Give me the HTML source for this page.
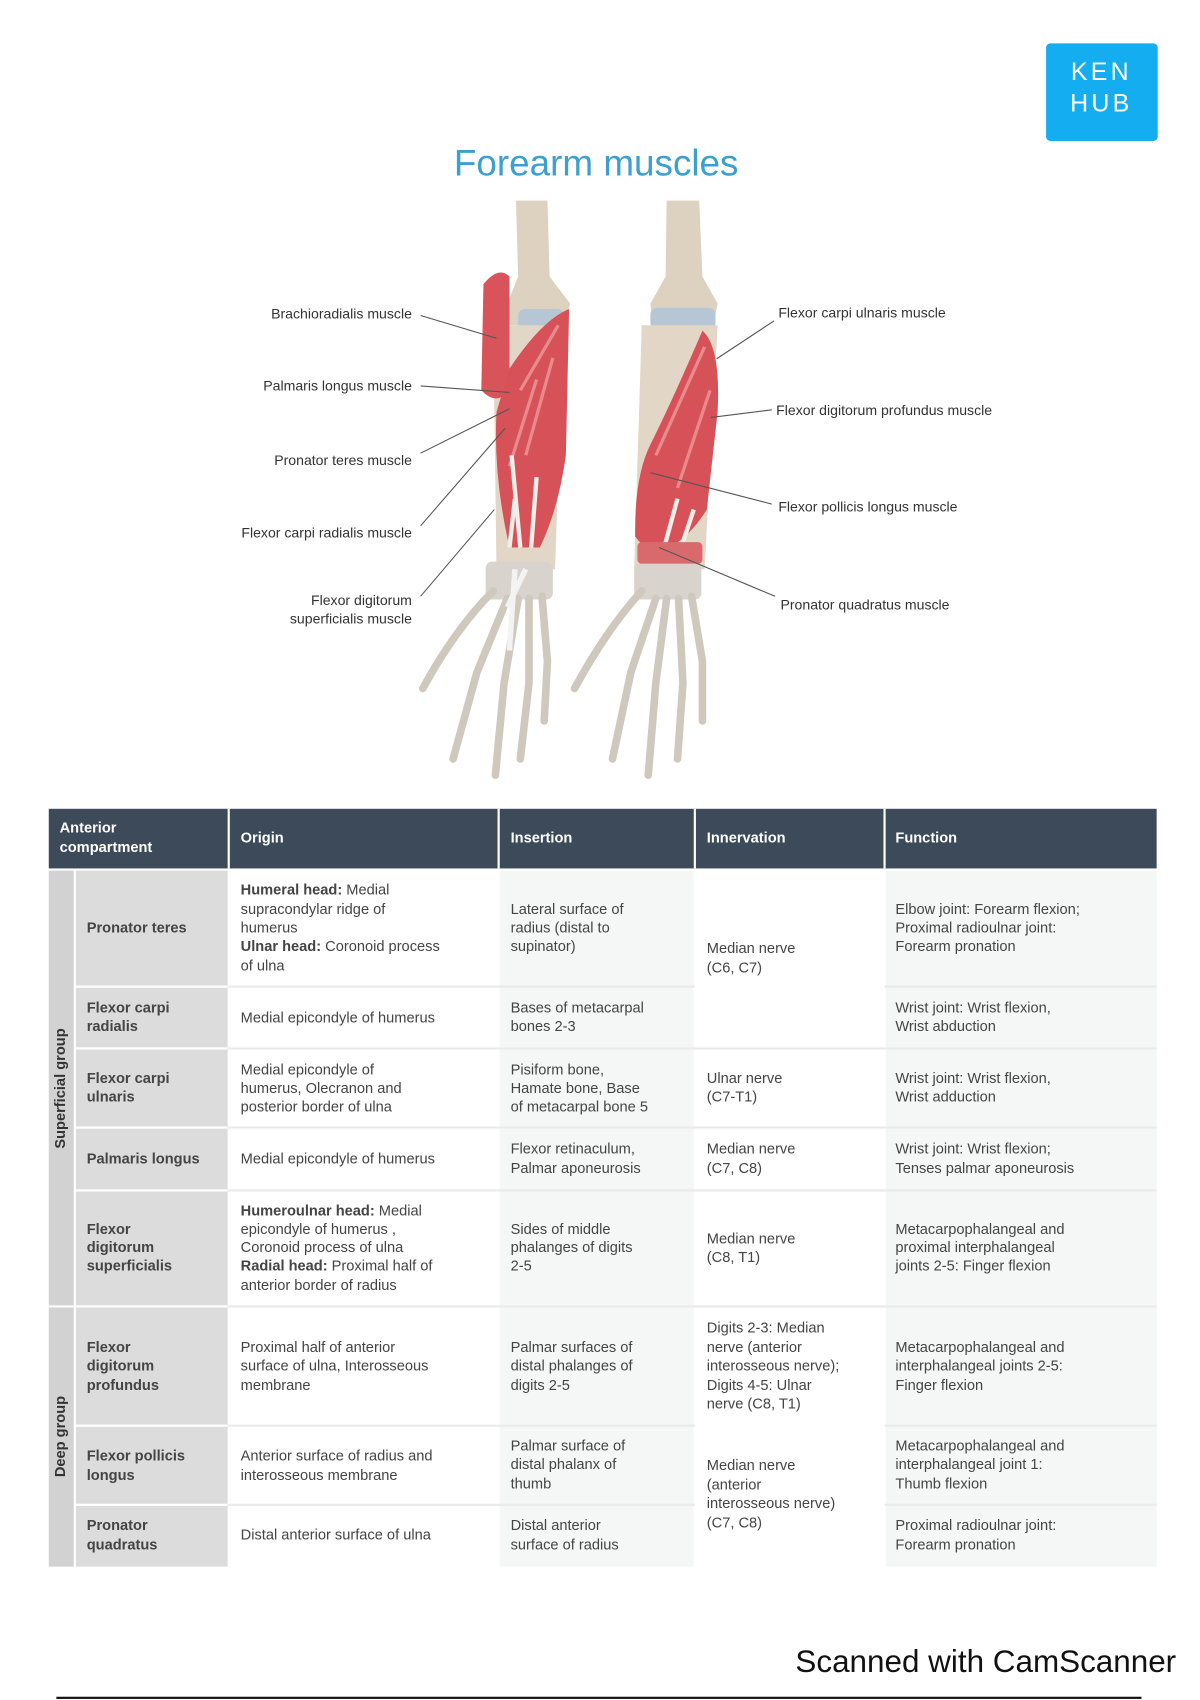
<!DOCTYPE html>
<html><head><meta charset="utf-8"><style>
html,body{margin:0;padding:0;background:#fff;}
svg{display:block;}
text{font-family:"Liberation Sans","DejaVu Sans",sans-serif;}
</style></head><body>
<svg width="1200" height="1700" viewBox="0 0 1107 1568" preserveAspectRatio="none" xmlns="http://www.w3.org/2000/svg">
<rect width="1107" height="1568" fill="#fff"/>
<!-- logo -->
<rect x="965" y="40" width="103" height="90" rx="4" fill="#14aef0"/>
<text x="1016" y="74" font-size="23" fill="#fff" text-anchor="middle" letter-spacing="3">KEN</text>
<text x="1016" y="103" font-size="23" fill="#fff" text-anchor="middle" letter-spacing="3">HUB</text>
<text x="550" y="162" font-size="34" fill="#3b9fd0" text-anchor="middle">Forearm muscles</text>

<!-- LEFT ARM -->
<g>
<path d="M476 185 L505 185 L507 255 L526 280 L520 300 L470 300 L468 280 L478 255 Z" fill="#ddd1bf"/>
<rect x="478" y="285" width="42" height="20" rx="6" fill="#b7c6d4"/>
<path d="M455 300 L520 300 L512 525 L458 525 Z" fill="#e2d7c6"/>
<path d="M446 262 Q460 245 470 255 L470 360 Q458 375 444 360 Z" fill="#d9545a"/>
<path d="M470 340 Q500 295 525 285 L522 420 Q515 470 498 505 L470 505 Q455 440 458 380 Z" fill="#d65258"/>
<path d="M480 360 L515 300 M485 420 L510 330 M470 430 L495 350" stroke="#e98a8d" stroke-width="3" fill="none"/>
<path d="M470 505 L475 460 M490 505 L495 440 M480 505 L472 420" stroke="#f1eeea" stroke-width="4" fill="none"/>
<rect x="448" y="518" width="62" height="35" rx="6" fill="#d8d4cd"/>
<g stroke="#cfc8bd" stroke-width="7" stroke-linecap="round" fill="none">
<path d="M455 545 Q420 580 390 635"/>
<path d="M468 552 L440 620 L418 700"/>
<path d="M478 552 L465 630 L457 715"/>
<path d="M488 552 L488 630 L480 700"/>
<path d="M500 550 L505 610 L502 665"/>
</g>
<path d="M475 525 L470 600 M485 525 L468 560" stroke="#f3f3f3" stroke-width="5" fill="none"/>
</g>

<!-- RIGHT ARM -->
<g>
<path d="M615 185 L645 185 L648 255 L662 280 L658 300 L602 300 L600 280 L614 255 Z" fill="#ddd1bf"/>
<rect x="600" y="284" width="60" height="20" rx="6" fill="#b7c6d4"/>
<path d="M592 300 L662 300 L650 525 L585 525 Z" fill="#e2d7c6"/>
<path d="M648 305 Q665 320 662 380 L652 470 Q630 505 600 512 L586 495 Q585 440 600 410 Q620 370 648 305 Z" fill="#d65258"/>
<path d="M605 420 L650 320 M625 450 L655 360" stroke="#e98a8d" stroke-width="3" fill="none"/>
<path d="M610 515 L625 460 M625 515 L640 470" stroke="#f1eeea" stroke-width="4" fill="none"/>
<rect x="588" y="500" width="60" height="20" rx="4" fill="#d86a6d"/>
<rect x="585" y="520" width="62" height="33" rx="6" fill="#d8d4cd"/>
<g stroke="#cfc8bd" stroke-width="7" stroke-linecap="round" fill="none">
<path d="M592 545 Q560 580 530 635"/>
<path d="M605 552 L582 620 L565 700"/>
<path d="M615 552 L605 630 L598 715"/>
<path d="M626 552 L630 630 L625 700"/>
<path d="M638 550 L648 610 L648 665"/>
</g>
</g>

<!-- leader lines -->
<g stroke="#555" stroke-width="1" fill="none">
<path d="M388 291 L458 312"/>
<path d="M388 356 L470 362"/>
<path d="M388 418 L470 377"/>
<path d="M388 485 L466 395"/>
<path d="M388 550 L456 470"/>
<path d="M714 296 L661 331"/>
<path d="M712 378 L656 385"/>
<path d="M712 465 L600 436"/>
<path d="M715 550 L608 505"/>
</g>
<g font-size="13" fill="#333">
<text x="380" y="294" text-anchor="end">Brachioradialis muscle</text>
<text x="380" y="360" text-anchor="end">Palmaris longus muscle</text>
<text x="380" y="429" text-anchor="end">Pronator teres muscle</text>
<text x="380" y="496" text-anchor="end">Flexor carpi radialis muscle</text>
<text x="380" y="558" text-anchor="end">Flexor digitorum</text>
<text x="380" y="575" text-anchor="end">superficialis muscle</text>
<text x="718" y="293">Flexor carpi ulnaris muscle</text>
<text x="716" y="383">Flexor digitorum profundus muscle</text>
<text x="718" y="472">Flexor pollicis longus muscle</text>
<text x="720" y="562">Pronator quadratus muscle</text>
</g>

<!-- TABLE -->
<rect x="45" y="746" width="1022" height="55" fill="#3c4a5a"/>
<g stroke="#fff" stroke-width="2"><path d="M211 746 V801 M460 746 V801 M641 746 V801 M816 746 V801"/></g>
<g font-size="13.5" font-weight="bold" fill="#fff">
<text x="55" y="768">Anterior</text><text x="55" y="786">compartment</text>
<text x="222" y="777">Origin</text><text x="471" y="777">Insertion</text>
<text x="652" y="777">Innervation</text><text x="826" y="777">Function</text>
</g>
<rect x="45" y="803" width="23" height="642" fill="#d2d2d2"/>
<rect x="70" y="803" width="140" height="642" fill="#dcdcdc"/>
<rect x="211" y="803" width="249" height="642" fill="#fff"/>
<rect x="461" y="803" width="179" height="642" fill="#f5f7f7"/>
<rect x="642" y="803" width="173" height="642" fill="#fff"/>
<rect x="817" y="803" width="250" height="642" fill="#f5f7f7"/>
<g stroke="#fff" stroke-width="2"><path d="M45 1205 H68"/></g>
<g stroke="#eaeaea" stroke-width="2">
<path d="M70 910 H641 M816 910 H1067 M70 967 H1067 M70 1040 H1067 M70 1098 H1067 M70 1205 H1067 M70 1315 H641 M816 1315 H1067 M70 1388 H641 M816 1388 H1067"/>
</g>
<g stroke="#fff" stroke-width="2"><path d="M70 910 H210 M70 967 H210 M70 1040 H210 M70 1098 H210 M70 1205 H210 M70 1315 H210 M70 1388 H210"/></g>
<g font-size="13.5" font-weight="bold" fill="#333">
<text transform="translate(60 1004) rotate(-90)" text-anchor="middle">Superficial group</text>
<text transform="translate(60 1325) rotate(-90)" text-anchor="middle">Deep group</text>
</g>
<g font-size="13.5" font-weight="bold" fill="#444">
<text x="80" y="860">Pronator teres</text>
<text x="80" y="934">Flexor carpi</text><text x="80" y="951">radialis</text>
<text x="80" y="999">Flexor carpi</text><text x="80" y="1016">ulnaris</text>
<text x="80" y="1073">Palmaris longus</text>
<text x="80" y="1138">Flexor</text><text x="80" y="1155">digitorum</text><text x="80" y="1172">superficialis</text>
<text x="80" y="1247">Flexor</text><text x="80" y="1264">digitorum</text><text x="80" y="1282">profundus</text>
<text x="80" y="1347">Flexor pollicis</text><text x="80" y="1365">longus</text>
<text x="80" y="1411">Pronator</text><text x="80" y="1429">quadratus</text>
</g>
<g font-size="13.5" fill="#444">
<text x="222" y="825"><tspan font-weight="bold">Humeral head:</tspan> Medial</text>
<text x="222" y="843">supracondylar ridge of</text>
<text x="222" y="860">humerus</text>
<text x="222" y="877"><tspan font-weight="bold">Ulnar head:</tspan> Coronoid process</text>
<text x="222" y="895">of ulna</text>
<text x="222" y="943">Medial epicondyle of humerus</text>
<text x="222" y="991">Medial epicondyle of</text><text x="222" y="1008">humerus, Olecranon and</text><text x="222" y="1025">posterior border of ulna</text>
<text x="222" y="1073">Medial epicondyle of humerus</text>
<text x="222" y="1121"><tspan font-weight="bold">Humeroulnar head:</tspan> Medial</text>
<text x="222" y="1138">epicondyle of humerus ,</text>
<text x="222" y="1155">Coronoid process of ulna</text>
<text x="222" y="1172"><tspan font-weight="bold">Radial head:</tspan> Proximal half of</text>
<text x="222" y="1190">anterior border of radius</text>
<text x="222" y="1247">Proximal half of anterior</text><text x="222" y="1264">surface of ulna, Interosseous</text><text x="222" y="1282">membrane</text>
<text x="222" y="1347">Anterior surface of radius and</text><text x="222" y="1365">interosseous membrane</text>
<text x="222" y="1420">Distal anterior surface of ulna</text>

<text x="471" y="843">Lateral surface of</text><text x="471" y="860">radius (distal to</text><text x="471" y="877">supinator)</text>
<text x="471" y="934">Bases of metacarpal</text><text x="471" y="951">bones 2-3</text>
<text x="471" y="991">Pisiform bone,</text><text x="471" y="1008">Hamate bone, Base</text><text x="471" y="1025">of metacarpal bone 5</text>
<text x="471" y="1064">Flexor retinaculum,</text><text x="471" y="1082">Palmar aponeurosis</text>
<text x="471" y="1138">Sides of middle</text><text x="471" y="1155">phalanges of digits</text><text x="471" y="1172">2-5</text>
<text x="471" y="1247">Palmar surfaces of</text><text x="471" y="1264">distal phalanges of</text><text x="471" y="1282">digits 2-5</text>
<text x="471" y="1338">Palmar surface of</text><text x="471" y="1355">distal phalanx of</text><text x="471" y="1373">thumb</text>
<text x="471" y="1411">Distal anterior</text><text x="471" y="1429">surface of radius</text>

<text x="652" y="879">Median nerve</text><text x="652" y="897">(C6, C7)</text>
<text x="652" y="999">Ulnar nerve</text><text x="652" y="1016">(C7-T1)</text>
<text x="652" y="1064">Median nerve</text><text x="652" y="1082">(C7, C8)</text>
<text x="652" y="1147">Median nerve</text><text x="652" y="1164">(C8, T1)</text>
<text x="652" y="1229">Digits 2-3: Median</text><text x="652" y="1247">nerve (anterior</text><text x="652" y="1264">interosseous nerve);</text><text x="652" y="1282">Digits 4-5: Ulnar</text><text x="652" y="1299">nerve (C8, T1)</text>
<text x="652" y="1356">Median nerve</text><text x="652" y="1374">(anterior</text><text x="652" y="1391">interosseous nerve)</text><text x="652" y="1409">(C7, C8)</text>

<text x="826" y="843">Elbow joint: Forearm flexion;</text><text x="826" y="860">Proximal radioulnar joint:</text><text x="826" y="877">Forearm pronation</text>
<text x="826" y="934">Wrist joint: Wrist flexion,</text><text x="826" y="951">Wrist abduction</text>
<text x="826" y="999">Wrist joint: Wrist flexion,</text><text x="826" y="1016">Wrist adduction</text>
<text x="826" y="1064">Wrist joint: Wrist flexion;</text><text x="826" y="1082">Tenses palmar aponeurosis</text>
<text x="826" y="1138">Metacarpophalangeal and</text><text x="826" y="1155">proximal interphalangeal</text><text x="826" y="1172">joints 2-5: Finger flexion</text>
<text x="826" y="1247">Metacarpophalangeal and</text><text x="826" y="1264">interphalangeal joints 2-5:</text><text x="826" y="1282">Finger flexion</text>
<text x="826" y="1338">Metacarpophalangeal and</text><text x="826" y="1355">interphalangeal joint 1:</text><text x="826" y="1373">Thumb flexion</text>
<text x="826" y="1411">Proximal radioulnar joint:</text><text x="826" y="1429">Forearm pronation</text>
</g>

<text x="1085" y="1542" font-size="29" fill="#111" text-anchor="end">Scanned with CamScanner</text>
<rect x="52" y="1565" width="1001" height="2" fill="#111"/>
</svg>
</body></html>
